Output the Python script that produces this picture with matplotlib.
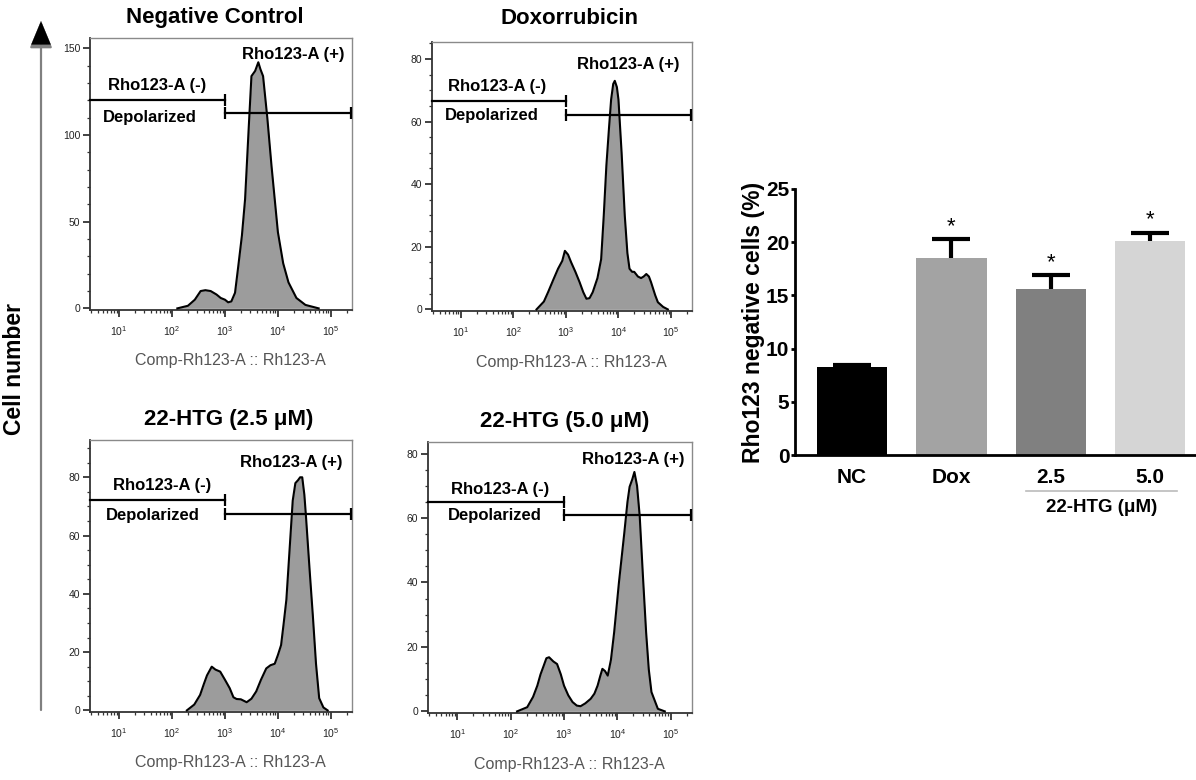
import numpy as np
import matplotlib
matplotlib.use("Agg")
import matplotlib.pyplot as plt
from matplotlib.ticker import FixedLocator, MultipleLocator, LogLocator, NullFormatter

plt.rcParams['font.family'] = ['Liberation Sans', 'DejaVu Sans']
plt.rcParams['mathtext.fontset'] = 'custom'
plt.rcParams['mathtext.rm'] = 'Liberation Sans'

# --- histogram data (log10 of fluorescence, cell counts) ---
nc_log = [2.10, 2.30, 2.43, 2.54, 2.63, 2.73, 2.84, 2.92, 3.00, 3.06, 3.12, 3.19, 3.25,
          3.32, 3.38, 3.45, 3.50, 3.57, 3.63, 3.67, 3.72, 3.80, 3.88, 4.00, 4.10, 4.20,
          4.35, 4.52, 4.77]
nc_count = [0, 1.5, 5, 10, 10.5, 10, 8, 6, 5, 3.5, 4, 9, 24,
            42, 63, 105, 134, 137, 142, 138, 134, 110, 82, 44, 26, 15,
            6, 2, 0]

dox_log = [2.44, 2.58, 2.66, 2.76, 2.85, 2.93, 2.98, 3.04, 3.10, 3.18, 3.26, 3.33, 3.39,
           3.45, 3.51, 3.60, 3.67, 3.72, 3.77, 3.82, 3.86, 3.90, 3.93, 3.97, 4.00, 4.06,
           4.12, 4.17, 4.21, 4.26, 4.30, 4.37, 4.43, 4.48, 4.53, 4.58, 4.62, 4.70, 4.75,
           4.85, 4.94]
dox_count = [0, 2.5, 5.5, 9.5, 13, 15.5, 18.7, 17.5, 15, 12, 8.7, 5.5, 3.4,
             3.6, 5.5, 10, 16, 30, 46, 58, 67, 72, 73, 71, 67, 50,
             30, 18, 13, 12, 12, 10.5, 10, 10.5, 11.3, 10.5, 8.7, 4.5, 2.3,
             0.8, 0]

htg25_log = [2.28, 2.42, 2.53, 2.60, 2.66, 2.75, 2.82, 2.91, 3.00, 3.09, 3.16, 3.22, 3.30,
             3.41, 3.50, 3.59, 3.68, 3.78, 3.86, 3.94, 4.00, 4.06, 4.11, 4.16, 4.22, 4.28,
             4.33, 4.38, 4.42, 4.46, 4.50, 4.53, 4.60, 4.66, 4.72, 4.78, 4.86, 4.94]
htg25_count = [0, 2, 5.3, 9, 12, 15, 14, 13.3, 10.5, 7.6, 4.5, 3.9, 3.8,
               2.8, 4, 6.5, 10.5, 14.4, 15.5, 16, 19, 22.4, 30, 38, 55, 72,
               78, 79, 80, 80, 74, 66.7, 48, 32.6, 16, 4.2, 1, 0]

htg50_log = [2.12, 2.31, 2.42, 2.50, 2.56, 2.62, 2.67, 2.72, 2.80, 2.87, 2.94, 3.00, 3.08,
             3.16, 3.24, 3.31, 3.40, 3.50, 3.57, 3.63, 3.68, 3.72, 3.77, 3.82, 3.88, 3.94,
             4.03, 4.13, 4.19, 4.23, 4.28, 4.32, 4.37, 4.42, 4.48, 4.54, 4.59, 4.64, 4.76,
             4.89]
htg50_count = [0, 1.3, 4.5, 8, 11.5, 14.2, 16.5, 16.8, 15.5, 14.7, 11.5, 8, 5,
               2.9, 1.8, 1.6, 2.5, 3.9, 5.5, 8, 11, 13.2, 12.5, 11.1, 16, 24.5,
               40, 55.3, 65, 69.7, 72, 74.3, 70, 60.5, 42, 24.5, 13, 6, 0.8,
               0]

# gate levels (cell-number axis) for the Rho123-A (-) and (+) markers
gate_lo = [120.5, 66.7, 72.2, 64.9]
gate_hi = [113.0, 62.2, 67.5, 60.8]
gate_split = 1e3
hist_ymax = [156, 85.4, 92.8, 83.6]
hist_major = [50, 20, 20, 20]
hist_minor = [10, 5, 5, 5]
hist_titles = ['Negative Control', 'Doxorrubicin',
               '22-HTG (2.5 \u03bcM)', '22-HTG (5.0 \u03bcM)']

# --- bar chart data ---
groups = ['NC', 'Dox', '2.5', '5.0']
pct_negative = [8.25, 18.5, 15.6, 20.1]
pct_sem = [0.25, 1.8, 1.3, 0.8]
bar_colors = ['#000000', '#a3a3a3', '#808080', '#d5d5d5']
significant = [False, True, True, True]

W, H = 1196, 780
fig = plt.figure(figsize=(W / 100, H / 100), dpi=100)


def px_axes(x0, y0, x1, y1):
    """axes from pixel box (top-left origin)"""
    return fig.add_axes([x0 / W, 1 - y1 / H, (x1 - x0) / W, (y1 - y0) / H])


hist_boxes = [(90, 38, 352, 310), (432, 42, 692, 311),
              (90, 440, 352, 712), (428, 442, 692, 713)]
title_px = [(215, 17), (570, 18), (229, 419), (565, 422)]
# label anchor points in axes fraction: (-) label, Depolarized, (+) label
label_pos = [
    [(0.256, 0.824), (0.229, 0.706), (0.775, 0.941)],
    [(0.250, 0.836), (0.230, 0.725), (0.754, 0.915)],
    [(0.274, 0.831), (0.241, 0.721), (0.770, 0.919)],
    [(0.273, 0.823), (0.254, 0.727), (0.777, 0.934)],
]
curves = [(nc_log, nc_count), (dox_log, dox_count),
          (htg25_log, htg25_count), (htg50_log, htg50_count)]

for i, box in enumerate(hist_boxes):
    ax = px_axes(*box)
    logs, counts = curves[i]
    x = 10 ** np.array(logs)
    ax.fill_between(x, counts, 0, color='#9c9c9c', lw=0, zorder=2)
    ax.plot(x, counts, color='black', lw=1.5, zorder=3)
    ax.set_xscale('log')
    xlo, xhi = 10 ** 0.45, 10 ** 5.4
    ax.set_xlim(xlo, xhi)
    ax.set_ylim(-0.006 * hist_ymax[i], hist_ymax[i])

    # gate markers
    ylo, yhi = gate_lo[i], gate_hi[i]
    ax.plot([xlo, gate_split], [ylo, ylo], color='black', lw=1.6, zorder=4,
            clip_on=False)
    ax.plot([gate_split], [ylo], marker='|', ms=9, mew=1.6, color='black', zorder=4)
    ax.plot([gate_split, xhi * 0.97], [yhi, yhi], color='black', lw=1.6, zorder=4)
    ax.plot([gate_split, xhi * 0.97], [yhi, yhi], ls='none', marker='|', ms=9,
            mew=1.6, color='black', zorder=4)

    (lx, ly), (dx, dy), (px, py) = label_pos[i]
    for tx, ty, s in [(lx, ly, 'Rho123-A (-)'), (dx, dy, 'Depolarized'),
                      (px, py, 'Rho123-A (+)')]:
        ax.text(tx, ty, s, transform=ax.transAxes, ha='center', va='center',
                fontsize=12, fontweight='bold')

    # ticks
    ax.yaxis.set_major_locator(MultipleLocator(hist_major[i]))
    ax.yaxis.set_minor_locator(MultipleLocator(hist_minor[i]))
    ax.xaxis.set_major_locator(FixedLocator([10, 100, 1e3, 1e4, 1e5]))
    ax.xaxis.set_minor_locator(LogLocator(base=10, subs=np.arange(2, 10)))
    ax.xaxis.set_minor_formatter(NullFormatter())
    ax.set_xticklabels([r'$10^{1}$', r'$10^{2}$', r'$10^{3}$', r'$10^{4}$', r'$10^{5}$'])
    ax.tick_params(axis='both', which='major', direction='out', length=5, width=1.3,
                   color='#333333', labelsize=7.5, labelcolor='#222222', pad=2)
    ax.tick_params(axis='both', which='minor', direction='out', length=2.5, width=0.9,
                   color='#333333')
    ax.tick_params(axis='x', which='major', pad=5, labelsize=7.5)
    for s in ax.spines.values():
        s.set_color('#8a8a8a')
        s.set_linewidth(1.0)
    ax.spines['left'].set_color('#333333')
    ax.spines['bottom'].set_color('#333333')
    ax.spines['left'].set_linewidth(1.3)
    ax.spines['bottom'].set_linewidth(1.3)

    tx, ty = title_px[i]
    fig.text(tx / W, 1 - ty / H, hist_titles[i], ha='center',
             va='center', fontsize=16, fontweight='bold')
    cx = (box[0] + box[2]) / 2
    fig.text((cx + 9) / W, 1 - (box[3] + 51) / H, 'Comp-Rh123-A :: Rh123-A',
             ha='center', va='center', fontsize=11.5, color='#555555')

# shared "Cell number" axis with arrow
fig.add_artist(matplotlib.patches.FancyArrowPatch(
    (41 / W, 1 - 710 / H), (41 / W, 1 - 21 / H), transform=fig.transFigure,
    arrowstyle='-|>,head_length=1.2,head_width=0.5', mutation_scale=14,
    color='#808080', lw=1.6, shrinkA=0, shrinkB=0))
fig.add_artist(matplotlib.patches.FancyArrowPatch(
    (41 / W, 1 - 45 / H), (41 / W, 1 - 21 / H), transform=fig.transFigure,
    arrowstyle='-|>,head_length=1.2,head_width=0.5', mutation_scale=14,
    color='black', lw=0.1, shrinkA=0, shrinkB=0))
fig.text(15 / W, 1 - 369 / H, 'Cell number', rotation=90, ha='center', va='center',
         fontsize=16.5, fontweight='bold')

# --- bar chart ---
axb = px_axes(795, 189, 1196, 455)
pos = np.arange(len(groups))
# error bars sit behind the bars so only the upper half shows
axb.errorbar(pos, pct_negative, yerr=pct_sem, fmt='none',
             ecolor='black', elinewidth=3, capsize=14, capthick=3, zorder=1)
axb.bar(pos, pct_negative, width=0.705, color=bar_colors, zorder=2)
for p, v, e, sig in zip(pos, pct_negative, pct_sem, significant):
    if sig:
        axb.text(p, v + e + 1.2, '*', ha='center', va='center', fontsize=16)
axb.set_xlim(-0.574, 3.46)
axb.set_ylim(0, 25)
axb.set_yticks([0, 5, 10, 15, 20, 25])
axb.set_xticks(pos)
axb.set_xticklabels(groups)
axb.spines['top'].set_visible(False)
axb.spines['right'].set_visible(False)
axb.spines['left'].set_linewidth(2)
axb.spines['bottom'].set_linewidth(2)
axb.tick_params(axis='y', direction='out', length=3, width=2, labelsize=15, pad=1)
axb.tick_params(axis='x', length=0, labelsize=15, pad=9)
for lab in axb.get_xticklabels() + axb.get_yticklabels():
    lab.set_fontweight('bold')
axb.set_ylabel('Rho123 negative cells (%)', fontsize=16.5, fontweight='bold',
               labelpad=1)

fig.add_artist(plt.Line2D([1026 / W, 1177 / W], [1 - 491 / H, 1 - 491 / H],
                          color='#bbbbbb', lw=1.2))
fig.text(1102 / W, 1 - 508 / H, '22-HTG (\u03bcM)', ha='center', va='center',
         fontsize=13.5, fontweight='bold')

fig.savefig('out.png', dpi=100)
